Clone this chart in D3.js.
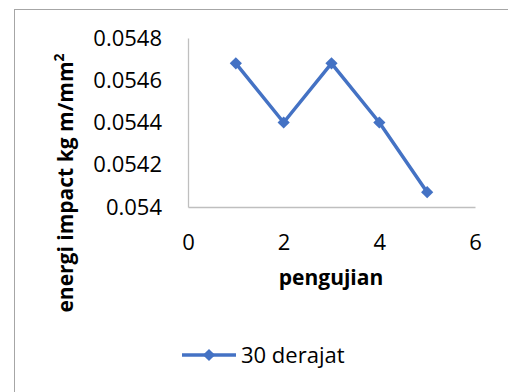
<!DOCTYPE html>
<html>
<head>
<meta charset="utf-8">
<title>energi impact</title>
<script src="https://cdn.jsdelivr.net/npm/d3@7"></script>
<style>
  body { margin: 0; background: #fff; }
  text { font-family: "Open Sans", sans-serif; fill: #000; }
</style>
</head>
<body>
<script>
// data
var pengujian = [1, 2, 3, 4, 5];
var energi = [0.05468, 0.0544, 0.05468, 0.0544, 0.05407];
var xTicks = [0, 2, 4, 6];
var yTicks = [0.054, 0.0542, 0.0544, 0.0546, 0.0548];
var seriesName = "30 derajat";

var W = 508, H = 392;
var blue = "#4472C4";

var svg = d3.select("body").append("svg")
    .attr("width", W)
    .attr("height", H);

// chart border (runs off the right and bottom of the picture)
svg.append("rect")
    .attr("x", 14.5).attr("y", 9.5)
    .attr("width", 520).attr("height", 420)
    .attr("fill", "#fff")
    .attr("stroke", "#a6a6a6");

var x = d3.scaleLinear().domain([0, 6]).range([188, 475]);
var y = d3.scaleLinear().domain([0.054, 0.0548]).range([207, 38]);

// axes
var xAxis = d3.axisBottom(x).tickValues(xTicks).tickSize(0).tickPadding(27).tickFormat(d3.format("d"));
var yAxis = d3.axisLeft(y).tickValues(yTicks).tickSize(0).tickPadding(26)
    .tickFormat(function(d) { return String(+d.toFixed(4)); });

var gx = svg.append("g").attr("transform", "translate(0,207)").call(xAxis);
var gy = svg.append("g").attr("transform", "translate(188,0)").call(yAxis);
[gx, gy].forEach(function(g) {
  g.select(".domain").attr("stroke", "#bfbfbf").attr("stroke-width", 1.3);
  g.selectAll("text").attr("font-size", 22).attr("font-family", "Open Sans, sans-serif").attr("fill", "#000");
});

// series line
var line = d3.line()
    .x(function(d, i) { return x(pengujian[i]); })
    .y(function(d) { return y(d); });

svg.append("path")
    .datum(energi)
    .attr("d", line)
    .attr("fill", "none")
    .attr("stroke", blue)
    .attr("stroke-width", 3.5)
    .attr("stroke-linejoin", "round");

var diamond = d3.symbol().type(d3.symbolDiamond2).size(95);

svg.selectAll(".pt")
    .data(energi)
    .enter().append("path")
    .attr("class", "pt")
    .attr("transform", function(d, i) { return "translate(" + x(pengujian[i]) + "," + y(d) + ")"; })
    .attr("d", diamond)
    .attr("fill", blue);

// axis titles
svg.append("text")
    .attr("x", 331).attr("y", 285)
    .attr("text-anchor", "middle")
    .attr("font-size", 21).attr("font-weight", "bold")
    .text("pengujian");

var yt = svg.append("text")
    .attr("transform", "translate(73,183) rotate(-90)")
    .attr("text-anchor", "middle")
    .attr("font-size", 21).attr("font-weight", "bold");
yt.append("tspan").text("energi impact kg m/mm");
yt.append("tspan").attr("dy", -9).attr("font-size", 14).text("2");

// legend
var lg = svg.append("g").attr("transform", "translate(182,355)");
lg.append("line").attr("x1", 0).attr("x2", 54)
    .attr("stroke", blue).attr("stroke-width", 3.5);
lg.append("path").attr("transform", "translate(27,0)").attr("d", diamond).attr("fill", blue);
lg.append("text").attr("x", 59).attr("y", 8)
    .attr("font-size", 22)
    .text(seriesName);
</script>
</body>
</html>
